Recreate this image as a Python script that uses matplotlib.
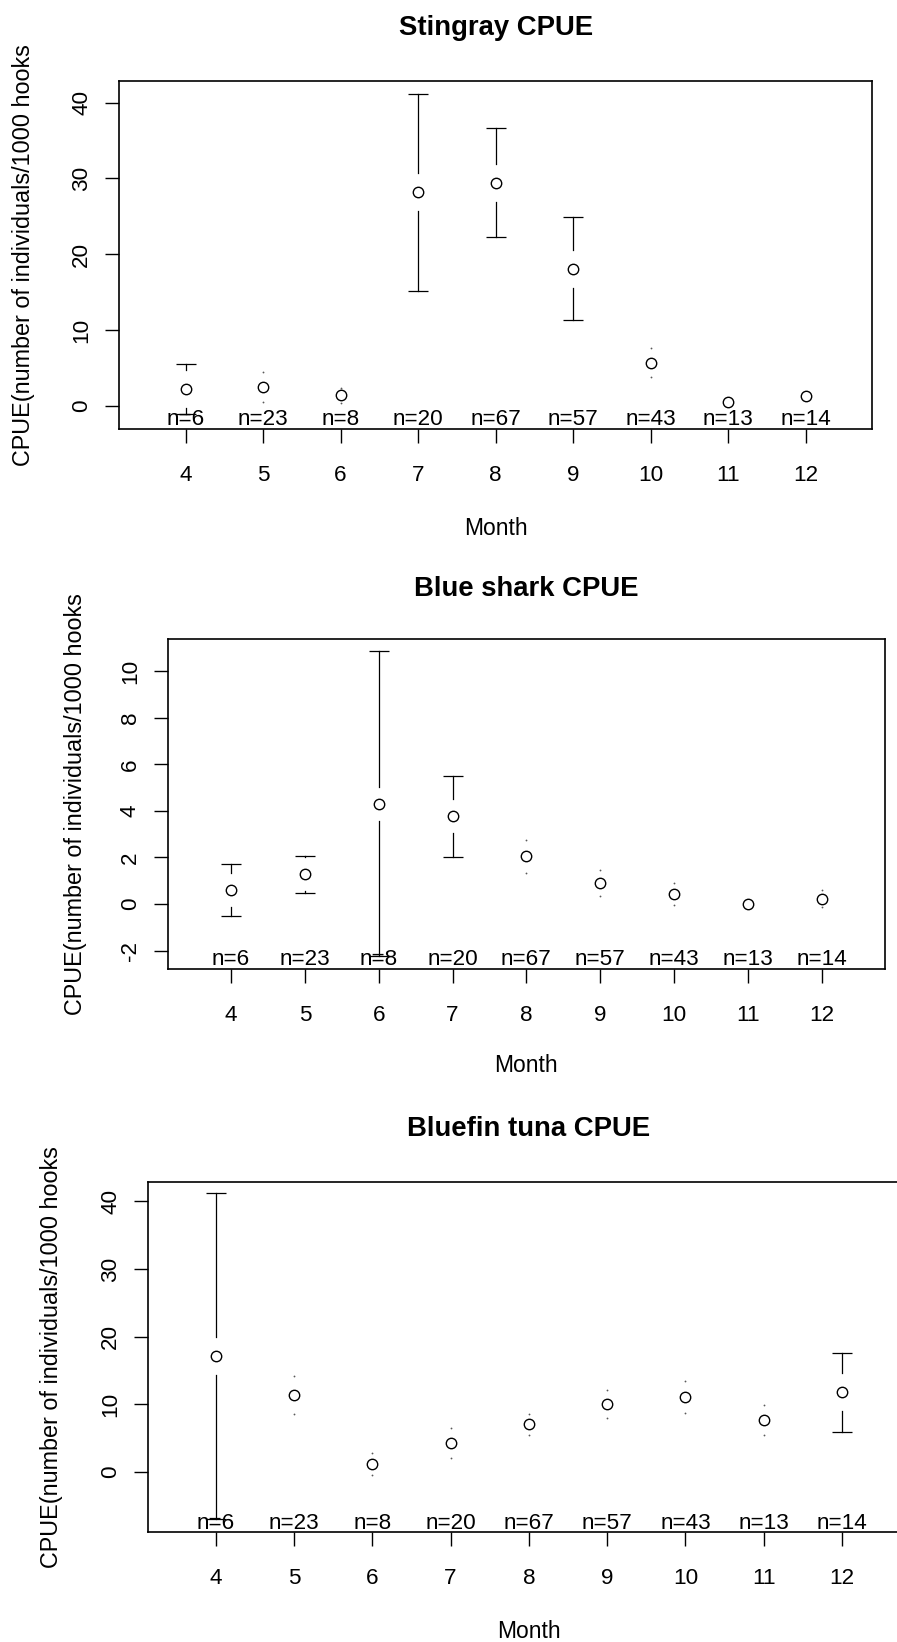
import matplotlib
matplotlib.use('Agg')
import matplotlib.pyplot as plt

plt.rcParams['font.family'] = ['Liberation Sans', 'DejaVu Sans']

# data
months = [4, 5, 6, 7, 8, 9, 10, 11, 12]
n_sets = [6, 23, 8, 20, 67, 57, 43, 13, 14]

stingray_mean = [2.2, 2.45, 1.4, 28.2, 29.45, 18.1, 5.7, 0.5, 1.3]
stingray_ci = [3.3, 2.0, 1.0, 13.0, 7.2, 6.8, 1.9, 0.2, 0.2]

blueshark_mean = [0.6, 1.28, 4.3, 3.76, 2.04, 0.9, 0.42, 0.0, 0.23]
blueshark_ci = [1.13, 0.79, 6.55, 1.73, 0.7, 0.57, 0.46, 0.05, 0.35]

tuna_mean = [17.18, 11.4, 1.2, 4.36, 7.08, 10.1, 11.1, 7.7, 11.8]
tuna_ci = [24.1, 2.75, 1.6, 2.2, 1.55, 2.05, 2.3, 2.2, 5.85]

titles = ['Stingray CPUE', 'Blue shark CPUE', 'Bluefin tuna CPUE']
ylabel = 'CPUE(number of individuals/1000 hooks'

W, H = 897, 1642
fig = plt.figure(figsize=(W / 100, H / 100), dpi=100)

# panel layout in pixels: left, top, right, bottom
panels = [
    dict(title=titles[0], mean=stingray_mean, ci=stingray_ci,
         box=(119, 81, 872.4, 428.7), ylim=(-3.03, 42.86),
         yticks=[0, 10, 20, 30, 40], gap=19, ylab_x=-0.127, xlab_y=-0.307),
    dict(title=titles[1], mean=blueshark_mean, ci=blueshark_ci,
         box=(167.7, 639.3, 885, 969), ylim=(-2.79, 11.36),
         yticks=[-2, 0, 2, 4, 6, 8, 10], gap=17, ylab_x=-0.128, xlab_y=-0.312),
    dict(title=titles[2], mean=tuna_mean, ci=tuna_ci,
         box=(148.3, 1181.8, 909.4, 1532.4), ylim=(-8.9, 42.9),
         yticks=[0, 10, 20, 30, 40], gap=19, ylab_x=-0.127, xlab_y=-0.300),
]

FS = 16.2

for p in panels:
    l, t, r, b = p['box']
    ax = fig.add_axes([l / W, 1 - b / H, (r - l) / W, (b - t) / H])
    ax.set_xlim(3.14, 12.86)
    ax.set_ylim(*p['ylim'])
    units_per_px = (p['ylim'][1] - p['ylim'][0]) / (b - t)
    gap = p['gap'] * units_per_px
    rad = 6 * units_per_px

    for m, y, c in zip(months, p['mean'], p['ci']):
        for sign in (1, -1):
            end = y + sign * c
            if c > gap:
                ax.plot([m, m], [y + sign * gap, end], color='black', lw=0.9)
                ax.plot([m], [end], marker='_', ms=13.7, mew=0.9, color='black')
            elif c > rad:
                ax.plot([m], [end], marker='o', ms=1.3, mew=0, color='0.35')

    ax.plot(months, p['mean'], 'o', mfc='white', mec='black', ms=7.5, mew=1.0,
            ls='none', zorder=3)

    for m, n in zip(months, n_sets):
        ax.annotate(f'n={n}', xy=(m, p['ylim'][0]), xytext=(0, 2.7),
                    textcoords='offset points', ha='center', va='baseline',
                    fontsize=FS)

    ax.set_xticks(months)
    ax.set_xticklabels([str(m) for m in months])
    ax.set_yticks(p['yticks'])
    ax.set_yticklabels([str(v) for v in p['yticks']])
    ax.tick_params(axis='both', length=10.4, width=1.0, labelsize=FS)
    ax.tick_params(axis='x', pad=15.5)
    ax.tick_params(axis='y', pad=9.0, labelrotation=90)
    for lab in ax.get_yticklabels():
        lab.set_va('center')
    for s in ax.spines.values():
        s.set_linewidth(1.2)

    ax.text(0.5, 1.132, p['title'], transform=ax.transAxes, ha='center',
            va='baseline', fontsize=19.8, fontweight='bold')
    ax.text(0.5, p['xlab_y'], 'Month', transform=ax.transAxes, ha='center',
            va='baseline', fontsize=16.5)
    ax.text(p['ylab_x'], 0.5, ylabel, transform=ax.transAxes, rotation=90,
            ha='center', va='center', fontsize=16.8)

fig.savefig('out.png', dpi=100)
